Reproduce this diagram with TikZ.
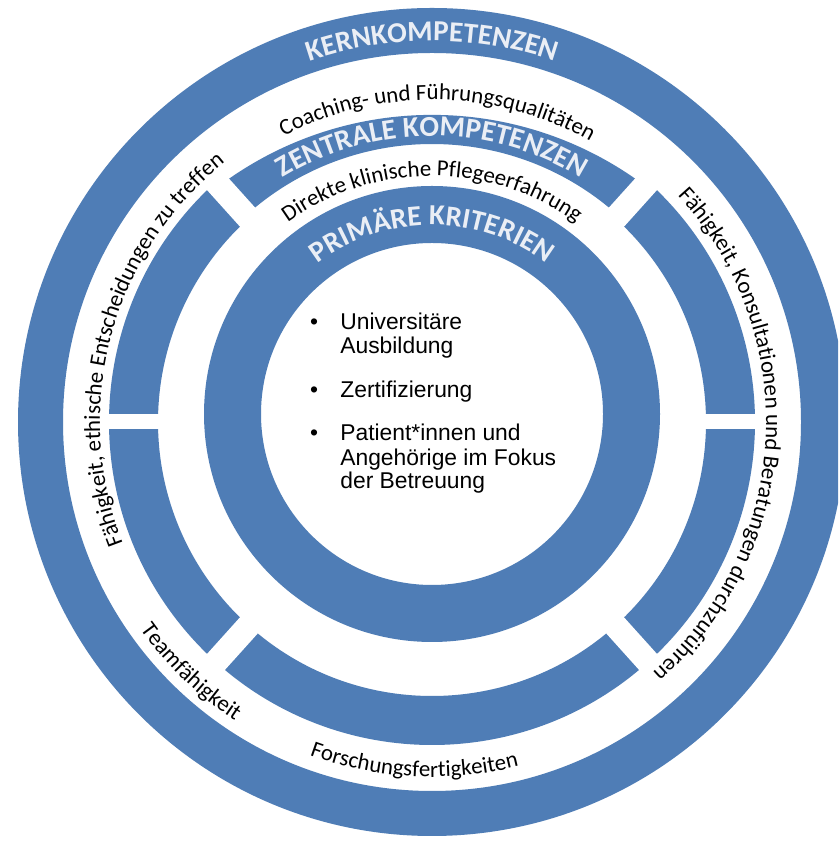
\documentclass[tikz,border=0pt]{standalone}
\usepackage{fontspec}
\setmainfont{Carlito}
\newfontfamily\listfont{Liberation Sans}
\usetikzlibrary{decorations.text}
\definecolor{ringblue}{RGB}{79,125,182}
\definecolor{capwhite}{RGB}{234,238,245}
\newcommand\capfont{\bfseries\fontsize{16.5}{16.5}\selectfont}
\newcommand\lblfont{\fontsize{13}{13}\selectfont}

\begin{document}
\begin{tikzpicture}[x=0.02cm,y=0.02cm]
  \tikzset{
    captext/.style={decorate,decoration={text along path,text align=center,text color=capwhite,text={|\capfont|#1}}},
    lbltext/.style={decorate,decoration={text along path,text align=center,text={|\lblfont|#1}}},
    listline/.style={anchor=base west,inner sep=0pt,font=\listfont\fontsize{13}{13}\selectfont},
    bullet/.style={anchor=base,inner sep=0pt,font=\listfont\fontsize{13}{13}\selectfont}
  }
  \useasboundingbox (0,0) rectangle (838,841);
  \fill[white] (0,0) rectangle (838,841);
  \clip (0,0) rectangle (838,841);
  \coordinate (ctr) at (432,419);
  \coordinate (ictr) at (432,427);

  % rings
  \fill[ringblue,even odd rule] (ctr) circle[radius=414] circle[radius=369];
  \begin{scope}[shift={(ctr)}]
    \fill[ringblue] (132:323) arc[start angle=132,end angle=408,radius=323]
      -- (48:274) arc[start angle=48,end angle=-228,radius=274] -- cycle;
    % top piece is flatter on its outer side
    \fill[ringblue] (-213,236) arc[start angle=126.9,end angle=53.1,radius=355]
      -- (48:278) arc[start angle=48,end angle=132,radius=278] -- cycle;
    \foreach \a/\w in {0/15,180/15,48/24,132/24,228/24,312/24}
      \draw[white,line width=\w*0.02cm] (\a:250) -- (\a:335);
  \end{scope}
  \fill[ringblue,even odd rule] (ictr) circle[radius=228] circle[radius=171];

  % ring titles
  \path[shift={(ctr)},captext={KERNKOMPETENZEN}] (150:381) arc[start angle=150,end angle=30,radius=381];
  \path[shift={(ctr)},captext={ZENTRALE KOMPETENZEN}] (150:286) arc[start angle=150,end angle=30,radius=286];
  \path[shift={(ictr)},captext={PRIMÄRE KRITERIEN}] (150:189) arc[start angle=150,end angle=30,radius=189];

  % labels between the rings
  \path[shift={(ctr)},lbltext={Coaching- und Führungsqualitäten}] (149:322) arc[start angle=149,end angle=29,radius=322];
  \path[shift={(ctr)},lbltext={Direkte klinische Pflegeerfahrung}] (150:246) arc[start angle=150,end angle=30,radius=246];
  \path[shift={(ctr)},lbltext={Fähigkeit, ethische Entscheidungen zu treffen}] (225:332) arc[start angle=225,end angle=105,radius=332];
  \path[shift={(ctr)},lbltext={Fähigkeit, Konsultationen und Beratungen durchzuführen}] (57:334) arc[start angle=57,end angle=-63,radius=334];
  \path[shift={(ctr)},lbltext={Teamfähigkeit}] (196:358) arc[start angle=196,end angle=256,radius=358];
  \path[shift={(ctr)},lbltext={Forschungsfertigkeiten}] (237:355) arc[start angle=237,end angle=297,radius=355];

  % list in the centre
  \node[bullet] (b1) at (314,511) {•};
  \node[bullet] (b2) at (314,443) {•};
  \node[bullet] (b3) at (314,400) {•};
  \node[listline] (l1) at (340,511) {Universitäre};
  \node[listline] (l2) at (340,487) {Ausbildung};
  \node[listline] (l3) at (340,443) {Zertifizierung};
  \node[listline] (l4) at (340,400) {Patient*innen und};
  \node[listline] (l5) at (340,375) {Angehörige im Fokus};
  \node[listline] (l6) at (340,352) {der Betreuung};
\end{tikzpicture}
\end{document}
